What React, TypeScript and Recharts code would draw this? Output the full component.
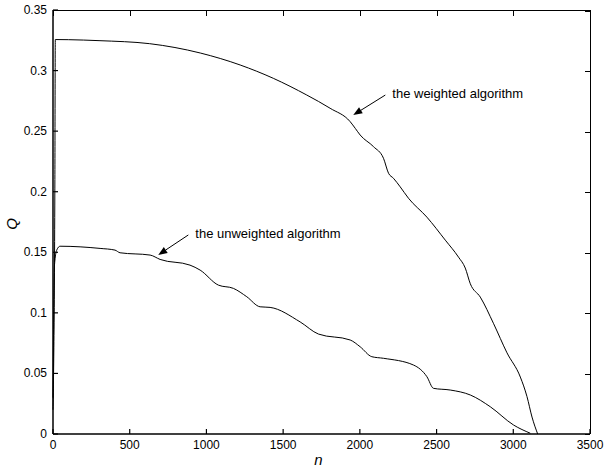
import { LineChart, Line, XAxis, YAxis, ReferenceLine, Label } from 'recharts';

// weighted algorithm
const weightedN = [0, 12, 15, 100, 300, 630, 960, 1220, 1436, 1654, 1806, 1937, 1970, 2002, 2089, 2154, 2187, 2219, 2263, 2317, 2437, 2557, 2643, 2687, 2720, 2785, 2872, 2959, 3046, 3089, 3122, 3159];
const weightedQ = [0.02, 0.2, 0.3256, 0.3255, 0.3247, 0.3222, 0.3145, 0.3046, 0.2936, 0.2798, 0.2689, 0.2578, 0.2523, 0.2468, 0.2372, 0.2276, 0.2152, 0.2111, 0.204, 0.1946, 0.179, 0.16, 0.146, 0.137, 0.124, 0.113, 0.091, 0.067, 0.047, 0.031, 0.014, 0];

// unweighted algorithm
const unweightedN = [0, 10, 25, 46, 307, 404, 437, 633, 698, 893, 959, 1078, 1176, 1263, 1350, 1415, 1611, 1730, 1937, 2002, 2078, 2154, 2350, 2437, 2480, 2589, 2720, 2850, 3002, 3111];
const unweightedQ = [0.03, 0.14, 0.152, 0.155, 0.1532, 0.1518, 0.1496, 0.1477, 0.1441, 0.1394, 0.1353, 0.1229, 0.1202, 0.1133, 0.105, 0.1045, 0.0925, 0.0825, 0.0776, 0.072, 0.0638, 0.0625, 0.0569, 0.0473, 0.0377, 0.0363, 0.0322, 0.0225, 0.0074, 0.0006];

const xTicks = [0, 500, 1000, 1500, 2000, 2500, 3000, 3500];
const yTicks = [0, 0.05, 0.1, 0.15, 0.2, 0.25, 0.3, 0.35];

// annotations: text, arrow tail (n, Q), arrow tip (n, Q)
const noteText = ['the weighted algorithm', 'the unweighted algorithm'];
const noteTail = [[2166, 0.2798], [882, 0.1643]];
const noteTip = [[1957, 0.2633], [686, 0.1478]];

const weighted = weightedN.map((n, i) => ({ n, q: weightedQ[i] }));
const unweighted = unweightedN.map((n, i) => ({ n, q: unweightedQ[i] }));

const FONT = '"Liberation Sans", Arial, Helvetica, sans-serif';
const TICK = 5;
const X_MAX = xTicks[xTicks.length - 1];
const Y_MAX = yTicks[yTicks.length - 1];

const W = 604;
const H = 470;
const M = { top: 10, right: 14, bottom: 0, left: 0 };
const Y_AXIS_W = 53;
const X_AXIS_H = 36;

// ticks drawn inward, matlab style
const BottomTick = (p: any) => (
  <g>
    <line x1={p.x} y1={p.y} x2={p.x} y2={p.y - TICK} stroke="#000" strokeWidth={1.2} />
    <text x={p.x} y={p.y + 15} textAnchor="middle" fontSize={12} fontFamily={FONT} fill="#000">
      {p.payload.value}
    </text>
  </g>
);
const LeftTick = (p: any) => (
  <g>
    <line x1={p.x} y1={p.y} x2={p.x + TICK} y2={p.y} stroke="#000" strokeWidth={1.2} />
    <text x={p.x - 6} y={p.y + 4} textAnchor="end" fontSize={12} fontFamily={FONT} fill="#000">
      {p.payload.value}
    </text>
  </g>
);

function arrowShape(text: string) {
  return (props: any) => {
    const { x1, y1, x2, y2 } = props;
    const dx = x2 - x1;
    const dy = y2 - y1;
    const len = Math.sqrt(dx * dx + dy * dy) || 1;
    const ux = dx / len;
    const uy = dy / len;
    const L = 9;
    const w = 3.5;
    const bx = x2 - ux * L;
    const by = y2 - uy * L;
    const head = `${x2},${y2} ${bx - uy * w},${by + ux * w} ${bx + uy * w},${by - ux * w}`;
    return (
      <g>
        <line x1={x1} y1={y1} x2={bx} y2={by} stroke="#000" strokeWidth={1} />
        <polygon points={head} fill="#000" />
        <text x={x1 + 7} y={y1 + 3} fontSize={13} fontFamily={FONT} fill="#000">
          {text}
        </text>
      </g>
    );
  };
}

// top and right edges of the box with their inward ticks, laid over the plot area
function BoxEdges() {
  const plotW = W - M.left - M.right - Y_AXIS_W;
  const plotH = H - M.top - M.bottom - X_AXIS_H;
  return (
    <div
      style={{
        position: 'absolute',
        left: M.left + Y_AXIS_W,
        top: M.top,
        width: plotW + 1,
        height: plotH,
        boxSizing: 'border-box',
        borderTop: '1px solid #000',
        borderRight: '1px solid #000',
        pointerEvents: 'none',
      }}
    >
      {xTicks.map((t) => (
        <div
          key={'tx' + t}
          style={{
            position: 'absolute',
            left: `${(t / X_MAX) * 100}%`,
            top: 0,
            width: 1,
            height: TICK,
            background: '#000',
          }}
        />
      ))}
      {yTicks.map((t) => (
        <div
          key={'ty' + t}
          style={{
            position: 'absolute',
            right: 0,
            top: `${(1 - t / Y_MAX) * 100}%`,
            width: TICK,
            height: 1,
            background: '#000',
          }}
        />
      ))}
    </div>
  );
}

export default function App() {
  return (
    <div style={{ position: 'absolute', left: 0, top: 0, width: W, height: H, background: '#fff' }}>
      <LineChart width={W} height={H} margin={M}>
        <XAxis
          dataKey="n"
          type="number"
          domain={[0, X_MAX]}
          ticks={xTicks}
          height={X_AXIS_H}
          tickSize={0}
          tickMargin={0}
          tickLine={false}
          tick={BottomTick}
          stroke="#000"
          strokeWidth={1.5}
          interval={0}
        >
          <Label
            value="n"
            position="insideBottom"
            offset={5}
            dx={-3}
            style={{ fontSize: 15, fontStyle: 'italic', fill: '#000', fontFamily: FONT }}
          />
        </XAxis>
        <YAxis
          type="number"
          domain={[0, Y_MAX]}
          ticks={yTicks}
          width={Y_AXIS_W}
          tickSize={0}
          tickMargin={0}
          tickLine={false}
          tick={LeftTick}
          stroke="#000"
          strokeWidth={1.5}
          interval={0}
        >
          <Label
            content={() => (
              <text
                x={17}
                y={224}
                transform="rotate(-90 17 224)"
                textAnchor="middle"
                fontSize={15}
                fontStyle="italic"
                fontFamily={FONT}
                fill="#000"
              >
                Q
              </text>
            )}
          />
        </YAxis>
        <Line
          data={weighted}
          dataKey="q"
          type="monotone"
          stroke="#000"
          strokeWidth={1}
          dot={false}
          isAnimationActive={false}
        />
        <Line
          data={unweighted}
          dataKey="q"
          type="monotone"
          stroke="#000"
          strokeWidth={1}
          dot={false}
          isAnimationActive={false}
        />
        {noteText.map((t, i) => (
          <ReferenceLine
            key={t}
            segment={[
              { x: noteTail[i][0], y: noteTail[i][1] },
              { x: noteTip[i][0], y: noteTip[i][1] },
            ]}
            shape={arrowShape(t)}
          />
        ))}
      </LineChart>
      <BoxEdges />
    </div>
  );
}
